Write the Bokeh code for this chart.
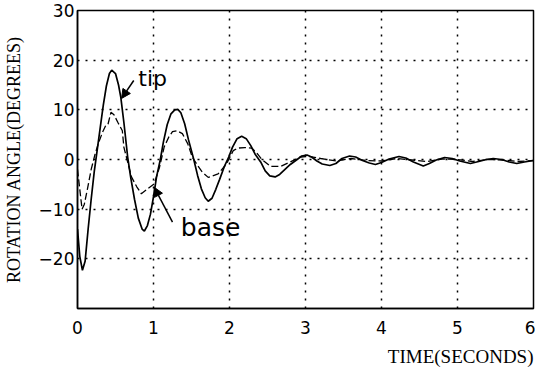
from bokeh.plotting import figure
from bokeh.models import FixedTicker, Label, Arrow, NormalHead, Title
from bokeh.embed import file_html
from bokeh.resources import INLINE

# ---- data ----
tip_t = [0.00, 0.03, 0.065, 0.10, 0.14, 0.18, 0.22, 0.26, 0.30, 0.34, 0.38, 0.42, 0.45, 0.50,
         0.54, 0.57, 0.61, 0.66, 0.70, 0.75, 0.80, 0.85, 0.88, 0.92, 0.96, 1.00, 1.04, 1.09,
         1.13, 1.18, 1.23, 1.28, 1.32, 1.36, 1.41, 1.46, 1.53, 1.58, 1.63, 1.68, 1.72, 1.77,
         1.82, 1.87, 1.93, 1.99, 2.04, 2.10, 2.16, 2.22, 2.28, 2.34, 2.41, 2.47, 2.53, 2.60,
         2.66, 2.73, 2.80, 2.89, 2.95, 3.02, 3.08, 3.15, 3.22, 3.32, 3.40, 3.48, 3.58, 3.66,
         3.75, 3.84, 3.92, 4.00, 4.10, 4.23, 4.32, 4.42, 4.55, 4.63, 4.72, 4.83, 4.93, 5.03,
         5.17, 5.28, 5.38, 5.47, 5.58, 5.68, 5.78, 5.88, 6.00]
tip_deg = [-14.0, -19.5, -22.3, -20.5, -14.0, -8.0, -2.5, 2.0, 6.5, 11.0, 14.8, 17.3, 18.0, 17.3,
           15.0, 12.5, 7.5, 0.5, -3.6, -8.0, -11.8, -14.0, -14.4, -13.3, -11.0, -7.5, -3.5, 0.0,
           3.5, 7.0, 9.2, 10.0, 10.1, 9.4, 7.2, 4.0, 0.0, -3.2, -5.9, -7.7, -8.4, -7.8,
           -6.0, -4.0, -1.5, 0.5, 2.5, 4.2, 4.7, 4.2, 2.8, 1.0, -0.5, -2.3, -3.3, -3.5,
           -3.0, -2.0, -1.0, 0.0, 0.7, 0.9, 0.5, -0.3, -0.9, -1.2, -0.8, 0.2, 0.7, 0.5,
           -0.2, -0.7, -1.0, -0.6, 0.1, 0.6, 0.3, -0.5, -1.3, -0.8, -0.1, 0.4, 0.2, -0.3,
           -0.8, -0.4, 0.0, 0.2, 0.0, -0.5, -0.8, -0.5, -0.2]

base_t = [0.00, 0.03, 0.06, 0.09, 0.13, 0.18, 0.23, 0.28, 0.33, 0.37, 0.40, 0.44, 0.48, 0.53,
          0.59, 0.61, 0.66, 0.71, 0.78, 0.84, 0.93, 1.01, 1.08, 1.14, 1.20, 1.25, 1.31, 1.38,
          1.45, 1.51, 1.58, 1.64, 1.72, 1.85, 1.96, 2.05, 2.11, 2.20, 2.29, 2.36, 2.42, 2.54,
          2.67, 2.80, 2.93, 3.06, 3.20, 3.40, 3.60, 3.80, 4.00, 4.20, 4.40, 4.60, 4.80, 5.00,
          5.20, 5.40, 5.60, 5.80, 6.00]
base_deg = [-2.0, -6.0, -10.0, -9.0, -6.0, -2.0, 1.0, 3.5, 5.5, 6.8, 7.0, 9.5, 9.0, 7.5,
            5.8, 2.5, -0.5, -3.5, -5.5, -6.9, -5.8, -4.9, -1.5, 2.5, 4.5, 5.6, 5.8, 5.2,
            3.2, 0.5, -1.2, -2.5, -3.6, -2.9, -0.9, 1.8, 2.3, 2.4, 2.3, 1.3, 0.1, -1.4,
            -1.4, -0.5, 0.5, 0.6, 0.2, -0.3, 0.2, -0.2, -0.3, 0.2, -0.1, -0.4, 0.1, 0.0,
            -0.4, 0.0, -0.1, -0.4, -0.2]

x_ticks = [0, 1, 2, 3, 4, 5, 6]
y_ticks = [-20, -10, 0, 10, 20, 30]

p = figure(width=535, height=374, output_backend="svg", toolbar_location=None,
           x_range=(0, 6), y_range=(-30, 30),
           min_border_left=70, min_border_right=2, min_border_top=10, min_border_bottom=66)
p.background_fill_color = "white"
p.border_fill_color = "white"
p.outline_line_color = "black"
p.outline_line_width = 1.5

for ax in (p.xaxis[0], p.yaxis[0]):
    ax.major_tick_out = 0
    ax.major_tick_in = 0
    ax.minor_tick_out = 0
    ax.minor_tick_in = 0
    ax.axis_line_color = "black"
    ax.axis_line_width = 1.5
    ax.major_label_text_font = "DejaVu Sans"
    ax.major_label_text_font_size = "17px"
    ax.major_label_text_color = "black"

p.xaxis.ticker = FixedTicker(ticks=x_ticks)
p.yaxis.ticker = FixedTicker(ticks=y_ticks)
p.xaxis.major_label_standoff = 12
p.yaxis.major_label_standoff = 3

p.yaxis.axis_label = "ROTATION ANGLE(DEGREES)"
p.yaxis.axis_label_text_font = "Liberation Serif"
p.yaxis.axis_label_text_font_size = "18px"
p.yaxis.axis_label_text_font_style = "normal"
p.yaxis.axis_label_text_color = "black"
p.yaxis.axis_label_standoff = 12

for g in (p.xgrid[0], p.ygrid[0]):
    g.grid_line_color = "black"
    g.grid_line_dash = "2 6"
    g.grid_line_width = 1.5

p.line(base_t, base_deg, line_color="black", line_width=1.3, line_dash="7 3")
p.line(tip_t, tip_deg, line_color="black", line_width=1.7)

p.add_layout(Arrow(end=NormalHead(size=9, fill_color="black", line_color="black"),
                   x_start=0.74, y_start=15.9, x_end=0.58, y_end=12.3,
                   line_color="black", line_width=1.5))
p.add_layout(Arrow(end=NormalHead(size=9, fill_color="black", line_color="black"),
                   x_start=1.25, y_start=-12.6, x_end=1.01, y_end=-5.6,
                   line_color="black", line_width=1.5))

p.add_layout(Label(x=0.80, y=16.4, text="tip", text_font="DejaVu Sans",
                   text_font_size="22px", text_color="black", text_baseline="alphabetic"))
p.add_layout(Label(x=1.36, y=-13.6, text="base", text_font="DejaVu Sans",
                   text_font_size="25px", text_color="black", text_baseline="alphabetic"))

p.add_layout(Title(text="TIME(SECONDS)", align="right", text_font="Liberation Serif",
                   text_font_size="19px", text_font_style="normal", text_color="black",
                   standoff=14), "below")

open("out.html", "w").write(file_html(p, INLINE))
